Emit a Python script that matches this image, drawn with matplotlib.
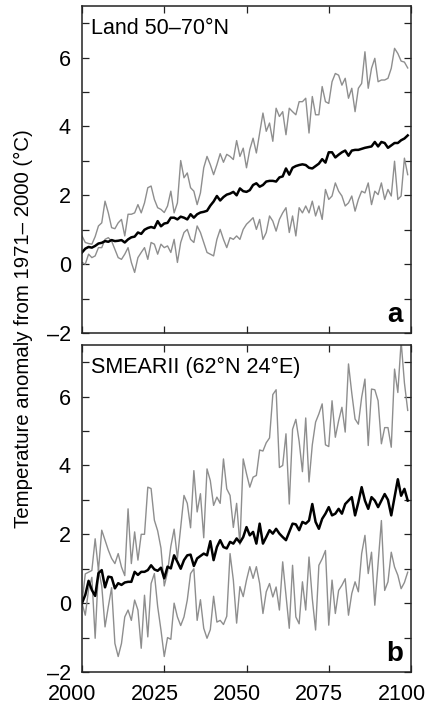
import matplotlib
matplotlib.use("Agg")
import matplotlib.pyplot as plt
import numpy as np
from matplotlib.ticker import MultipleLocator
from matplotlib.transforms import ScaledTranslation

plt.rcParams['font.family'] = ['Liberation Sans', 'DejaVu Sans']

years = np.arange(2000, 2100)

# ---------- panel a: Land 50-70N ----------
land_upper = [
    0.82, 0.63, 0.6, 0.58, 0.8, 1.11, 1.2, 1.83, 1.49, 1.06,
    1.03, 1.2, 1.3, 0.82, 1.45, 1.45, 1.49, 1.73, 1.49, 1.78,
    2.22, 2.27, 1.88, 1.64, 1.59, 1.5, 1.69, 2.12, 1.49, 1.78,
    3.01, 2.51, 2.65, 2.22, 2.12, 1.73, 2.07, 2.8, 3.13, 2.89,
    2.6, 2.89, 3.21, 2.96, 3.19, 3.13, 3.04, 3.59, 3.13, 3.37,
    2.8, 3.33, 3.66, 3.23, 3.81, 4.39, 3.86, 4.1, 3.57, 4.53,
    4.29, 4.43, 3.76, 4.53, 4.43, 4.34, 4.72, 4.72, 4.82, 3.81,
    4.87, 4.34, 4.34, 5.16, 4.72, 4.67, 5.3, 5.54, 5.49, 5.2,
    5.4, 4.82, 5.11, 4.43, 5.11, 5.25, 6.17, 5.11, 5.69, 5.98,
    5.3, 5.35, 5.35, 5.4, 5.69, 6.27, 6.12, 5.9, 5.87, 5.7,
]
land_lower = [
    0.05, 0.0, 0.29, 0.19, 0.24, 0.48, 0.48, 0.72, 0.77, 0.67,
    0.43, 0.19, 0.14, 0.29, 0.48, 0.05, -0.24, 0.19, 0.34, 0.48,
    0.14, 0.63, 0.58, 0.29, 0.58, 0.48, 0.53, 0.34, 0.72, 0.05,
    0.63, 0.92, 1.01, 0.72, 0.63, 1.11, 0.92, 0.63, 0.34, 0.29,
    0.24, 0.72, 1.01, 0.72, 0.48, 0.77, 0.72, 0.82, 0.72, 1.01,
    1.16, 1.25, 1.35, 1.01, 1.3, 0.72, 0.92, 1.4, 1.25, 0.96,
    1.3, 1.49, 1.64, 0.92, 1.4, 0.82, 1.64, 1.49, 1.69, 1.49,
    1.83, 1.4, 1.69, 1.3, 2.17, 1.88, 1.98, 2.36, 2.12, 1.98,
    1.69, 1.78, 1.98, 1.54, 1.88, 2.12, 2.07, 2.36, 1.73, 2.12,
    2.02, 2.36, 1.88, 2.17, 1.98, 2.99, 1.88, 1.98, 3.08, 2.6,
]
land_mean = [
    0.34, 0.45, 0.5, 0.48, 0.53, 0.6, 0.62, 0.67, 0.65, 0.7,
    0.67, 0.68, 0.7, 0.63, 0.72, 0.78, 0.8, 0.92, 0.88, 1.0,
    1.05, 1.08, 1.05, 1.25, 1.1, 1.18, 1.2, 1.35, 1.35, 1.3,
    1.38, 1.35, 1.3, 1.45, 1.35, 1.45, 1.5, 1.52, 1.55, 1.7,
    1.82, 1.98, 1.85, 1.95, 2.02, 2.05, 2.1, 2.0, 2.2, 2.12,
    2.1, 2.15, 2.3, 2.35, 2.25, 2.3, 2.4, 2.42, 2.42, 2.4,
    2.52, 2.55, 2.78, 2.6, 2.8, 2.85, 2.88, 2.9, 2.88, 2.8,
    2.78, 2.85, 2.92, 3.05, 2.95, 3.25, 3.25, 3.1, 3.18, 3.25,
    3.3, 3.15, 3.3, 3.32, 3.32, 3.35, 3.38, 3.4, 3.42, 3.55,
    3.42, 3.55, 3.52, 3.38, 3.45, 3.52, 3.52, 3.6, 3.65, 3.74,
]

# ---------- panel b: SMEARII ----------
smear_upper = [
    0.0, 0.85, 0.9, 0.95, 1.87, 0.95, 2.12, 1.83, 1.54, 1.3,
    1.15, 1.44, 1.05, 0.8, 2.74, 1.15, 2.07, 1.25, 2.0, 2.0,
    3.37, 3.33, 2.41, 2.1, 1.6, 0.5, 0.9, 1.65, 2.15, 1.3,
    2.2, 3.13, 2.9, 2.19, 3.85, 2.65, 3.18, 1.9, 3.9, 3.56,
    2.84, 3.08, 2.9, 4.19, 3.32, 3.13, 2.2, 2.9, 1.7, 4.19,
    3.76, 3.37, 3.66, 3.71, 4.45, 4.42, 4.66, 4.8, 6.06, 6.2,
    3.94, 4.0, 4.92, 2.88, 5.05, 5.34, 4.7, 3.82, 5.38, 3.52,
    4.6, 5.26, 5.5, 5.79, 4.6, 4.55, 5.88, 4.82, 5.3, 5.69,
    4.97, 6.95, 6.1, 5.35, 5.2, 5.98, 6.51, 4.58, 6.22, 6.2,
    5.88, 4.63, 5.1, 5.1, 4.53, 6.8, 6.12, 7.6, 6.4, 5.6,
]
smear_lower = [
    0.0, -0.35, 0.4, 0.75, -1.02, 1.0, 0.5, -0.69, -0.1, 0.45,
    -1.17, -1.55, -1.17, -0.4, -0.2, -0.5, 0.09, -0.2, -1.31, 0.23,
    -0.98, 0.57, 0.86, -0.1, -0.78, -1.55, -1.0, -1.05, 0.0, -0.4,
    -0.65, -0.4, 0.09, 0.86, 1.0, -0.5, 0.1, -0.73, -1.02, -0.77,
    0.2, -0.55, -0.5, -0.62, -0.38, 1.44, 0.67, -0.58, 0.48, 0.19,
    0.67, 1.06, 0.72, 1.06, 0.57, -0.3, 0.33, 0.57, 0.18, 0.47,
    -0.2, 1.2, 0.23, -0.73, 1.1, -0.4, -0.6, 0.62, -0.2, 1.34,
    0.13, -0.78, 1.1, 1.29, 1.53, -0.64, 0.67, -0.3, 0.37, 0.52,
    0.71, -0.35, 0.28, 0.62, 0.33, 1.44, 1.97, 0.86, 1.48, -0.06,
    1.15, 2.4, 0.37, 0.62, 1.48, 1.05, 0.81, 0.42, 0.6, 0.9,
]
smear_mean = [
    0.0, 0.24, 0.65, 0.38, 0.21, 0.87, 0.96, 0.46, 0.77, 0.75,
    0.43, 0.58, 0.53, 0.6, 0.62, 0.62, 0.91, 0.82, 0.91, 0.91,
    0.96, 1.1, 0.98, 0.94, 1.03, 0.72, 1.06, 1.01, 1.39, 1.2,
    1.0, 1.25, 1.39, 1.41, 1.08, 1.3, 1.37, 1.44, 1.39, 1.8,
    1.25, 1.63, 1.83, 1.63, 1.59, 1.78, 1.73, 1.88, 1.76, 1.92,
    2.21, 1.97, 2.07, 1.73, 2.31, 1.73, 1.92, 2.12, 2.02, 2.16,
    2.02, 1.92, 1.83, 2.07, 2.31, 2.29, 2.12, 2.36, 2.31, 2.4,
    2.88, 2.36, 2.16, 2.45, 2.6, 2.79, 2.55, 2.6, 2.74, 2.6,
    2.88, 2.98, 3.08, 2.55, 2.93, 3.37, 2.98, 2.74, 3.08, 2.98,
    2.79, 2.98, 3.17, 3.0, 2.55, 3.08, 3.6, 3.12, 3.32, 2.98,
]

x_ticks = [2000, 2025, 2050, 2075, 2100]
y_ticks = [-2, 0, 2, 4, 6]

GRAY = "#8e8e8e"
FONT = 15.5

fig = plt.figure(figsize=(4.30, 7.11), dpi=100)
ax_a = fig.add_axes((82 / 430, 1 - 333 / 711, 329 / 430, 327 / 711))
ax_b = fig.add_axes((82 / 430, 1 - 672 / 711, 329 / 430, 327 / 711))

panels = [
    (ax_a, land_upper, land_lower, land_mean, "Land 50\u201370\u00b0N", "a"),
    (ax_b, smear_upper, smear_lower, smear_mean, "SMEARII (62\u00b0N 24\u00b0E)", "b"),
]

for ax, up, lo, mean, title, letter in panels:
    ax.plot(years, up, color=GRAY, lw=1.0)
    ax.plot(years, lo, color=GRAY, lw=1.0)
    ax.plot(years, mean, color="black", lw=1.8)
    ax.set_xlim(2000, 2100)
    ax.set_ylim(-2, 7.5)
    ax.set_xticks(x_ticks)
    ax.set_yticks(y_ticks)
    ax.set_yticklabels(["\u20132", "0", "2", "4", "6"])
    ax.yaxis.set_minor_locator(MultipleLocator(1))
    ax.tick_params(which="both", direction="in", top=True, right=True,
                   labelsize=FONT, width=0.9, color="#222222", length=5)
    ax.tick_params(axis="y", pad=8)
    for s in ax.spines.values():
        s.set_linewidth(1.1)
        s.set_color("#222222")
    ax.text(0.027, 0.93, title, transform=ax.transAxes, ha="left", va="center",
            fontsize=FONT)
    ax.text(0.975, 0.033, letter, transform=ax.transAxes, ha="right",
            va="baseline", fontsize=20, fontweight="bold")

ax_a.tick_params(axis="x", labelbottom=False)
ax_b.tick_params(axis="x", pad=9)
# year labels sit a little left of their ticks in the original
shift = ScaledTranslation(-9.5 / 100, 0, fig.dpi_scale_trans)
for lab in ax_b.get_xticklabels():
    lab.set_transform(lab.get_transform() + shift)

fig.text(23 / 430, 1 - 329 / 711, "Temperature anomaly from 1971\u2013 2000 (\u00b0C)",
         rotation=90, ha="center", va="center", fontsize=14.7)

fig.savefig("out.png", dpi=100)
